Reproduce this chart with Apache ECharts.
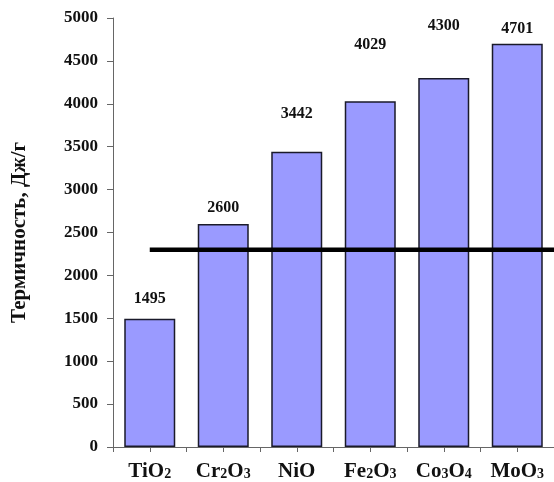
<!DOCTYPE html>
<html><head><meta charset="utf-8">
<script src="https://cdn.jsdelivr.net/npm/echarts@6/dist/echarts.min.js"></script>
<style>html,body{margin:0;padding:0;background:#fff}#c{width:554px;height:482px}</style>
</head><body><div id="c"></div>
<script>
const categories = ['TiO2', 'Cr2O3', 'NiO', 'Fe2O3', 'Co3O4', 'MoO3'];
const values = [1495, 2600, 3442, 4029, 4300, 4701];
const thresholdValue = 2300;
const yTicks = [0, 500, 1000, 1500, 2000, 2500, 3000, 3500, 4000, 4500, 5000];
const yAxisTitle = 'Термичность, Дж/г';

// label vertical offsets (styling only)
const labelOffsets = [-4, 0, -22, -40, -36, 1];

const serif = '"Liberation Serif","Times New Roman",serif';
const chart = echarts.init(document.getElementById('c'), null, {renderer: 'canvas'});

function subFmt(s) {
  return s.replace(/([A-Za-z]+)(\d?)/g, (m, a, d) => '{n|' + a + '}' + (d ? '{s|' + d + '}' : ''));
}

chart.setOption({
  animation: false,
  grid: {left: 113, top: 18, width: 444, bottom: 34, containLabel: false},
  xAxis: [{
    type: 'category', data: categories,
    axisLine: {show: true, lineStyle: {color: '#666', width: 1}},
    axisTick: {show: false},
    axisLabel: {
      interval: 0,
      margin: 14,
      formatter: v => subFmt(v),
      rich: {
        n: {fontFamily: serif, fontWeight: 'bold', fontSize: 21, color: '#111'},
        s: {fontFamily: serif, fontWeight: 'bold', fontSize: 14, color: '#111', padding: [5, 0, 0, 0]}
      }
    }
  }, {
    type: 'value', min: 0, max: 6, interval: 0.5, position: 'bottom',
    axisLine: {show: false},
    axisTick: {show: true, length: 5, lineStyle: {color: '#666'}},
    axisLabel: {show: false}, splitLine: {show: false}
  }],
  yAxis: {
    type: 'value', min: yTicks[0], max: yTicks[yTicks.length - 1], interval: yTicks[1] - yTicks[0],
    name: yAxisTitle, nameLocation: 'middle', nameGap: 83, nameRotate: 90,
    nameTextStyle: {fontFamily: serif, fontWeight: 'bold', fontSize: 21, color: '#111'},
    axisLine: {show: true, lineStyle: {color: '#666'}},
    axisTick: {show: true, inside: false, length: 6, lineStyle: {color: '#666'}},
    axisLabel: {margin: 15, fontFamily: serif, fontWeight: 'bold', fontSize: 17, color: '#111', formatter: v => String(v)},
    splitLine: {show: false}
  },
  series: [{
    type: 'bar', xAxisIndex: 0,
    data: values.map((v, i) => ({value: v, label: {offset: [0, labelOffsets[i]]}})),
    barWidth: 51,
    itemStyle: {color: '#9a9aff', borderColor: '#1a1a2a', borderWidth: 1.5},
    label: {show: true, position: 'top', distance: 8, fontFamily: serif, fontWeight: 'bold', fontSize: 16, color: '#111'}
  }, {
    type: 'line', xAxisIndex: 1, symbol: 'none',
    data: [[0.5, thresholdValue], [6, thresholdValue]],
    lineStyle: {color: '#000', width: 4.5},
    z: 5
  }]
});
</script></body></html>
